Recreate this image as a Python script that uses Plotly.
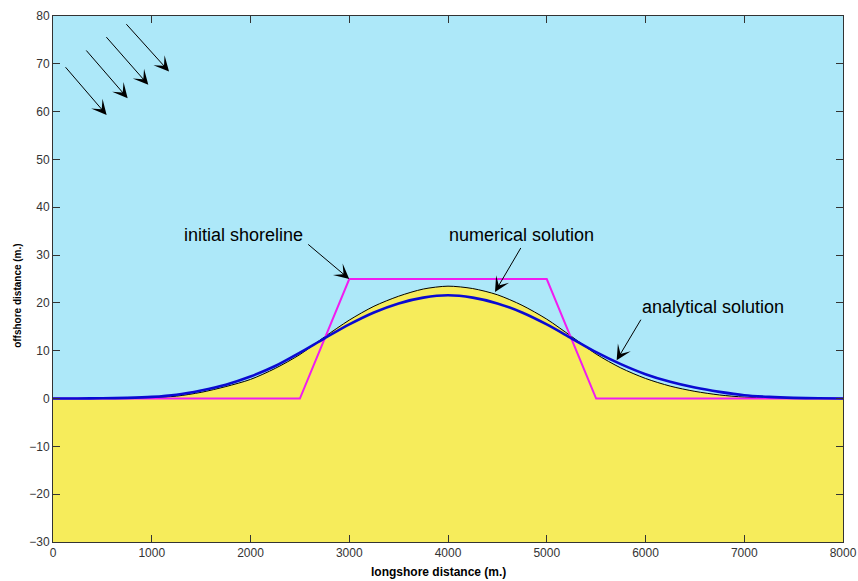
import plotly.graph_objects as go

# Longshore positions (m) at which the shorelines are sampled
x_pos = [0, 250, 500, 750, 1000, 1250, 1500, 1750, 2000, 2250, 2500, 2750,
         3000, 3250, 3500, 3750, 4000, 4250, 4500, 4750, 5000, 5250, 5500,
         5750, 6000, 6250, 6500, 6750, 7000, 7250, 7500, 7750, 8000]

# Shoreline position after evolution (m offshore)
numerical = [0.0, 0.0, 0.02, 0.05, 0.15, 0.5, 1.3, 2.5, 4.0, 6.3, 9.2, 12.9,
             16.4, 19.3, 21.4, 22.9, 23.5, 23.0, 21.7, 19.5, 16.6, 13.0, 9.3,
             6.4, 4.2, 2.6, 1.5, 0.75, 0.3, 0.1, 0.03, 0.0, 0.0]
analytical = [0.0, 0.02, 0.05, 0.15, 0.35, 0.8, 1.7, 2.9, 4.6, 6.8, 9.6, 12.6,
              15.5, 18.0, 19.9, 21.1, 21.6, 21.1, 19.9, 18.0, 15.5, 12.6, 9.7,
              7.2, 5.1, 3.5, 2.3, 1.4, 0.7, 0.35, 0.15, 0.05, 0.0]

# Initial (trapezoidal) beach nourishment
init_x = [0, 2500, 3000, 5000, 5500, 8000]
init_y = [0, 0, 25, 25, 0, 0]

# Incoming wave direction arrows: (tail x, tail y, head x, head y)
wave_arrows = [
    (114, 69.6, 543, 59.3),
    (324, 73.1, 756, 62.8),
    (527, 75.9, 965, 65.6),
    (729, 78.6, 1175, 68.4),
]

x_ticks = [0, 1000, 2000, 3000, 4000, 5000, 6000, 7000, 8000]
y_ticks = [-30, -20, -10, 0, 10, 20, 30, 40, 50, 60, 70, 80]

SEA = "#ade8f9"
SAND = "#f6ec5b"
FONT = "Liberation Sans, Arial, sans-serif"

fig = go.Figure()

# bottom of the sand body
fig.add_trace(go.Scatter(
    x=[x_ticks[0], x_ticks[-1]], y=[y_ticks[0], y_ticks[0]],
    mode="lines", line=dict(width=0, color=SAND), hoverinfo="skip",
    showlegend=False))

# sand (beach) filled up to the numerical shoreline
fig.add_trace(go.Scatter(
    x=x_pos, y=numerical, mode="lines", fill="tonexty", fillcolor=SAND,
    line=dict(color="black", width=1, shape="spline", smoothing=0.8),
    name="numerical solution", showlegend=False))

fig.add_trace(go.Scatter(
    x=init_x, y=init_y, mode="lines",
    line=dict(color="#f01cf0", width=2),
    name="initial shoreline", showlegend=False))

fig.add_trace(go.Scatter(
    x=x_pos, y=analytical, mode="lines",
    line=dict(color="#0a0ad2", width=2.6, shape="spline", smoothing=0.8),
    name="analytical solution", showlegend=False))

annotations = []
for tx, ty, hx, hy in wave_arrows:
    annotations.append(dict(
        x=hx, y=hy, ax=tx, ay=ty, xref="x", yref="y", axref="x", ayref="y",
        text="", showarrow=True, arrowhead=3, arrowsize=2.5, arrowwidth=1,
        arrowcolor="black"))

labels = [
    ("initial shoreline", 1934, 34.2, 2569, 32.5, 3000, 25),
    ("numerical solution", 4745, 34.2, 4746, 31.8, 4476, 22.3),
    ("analytical solution", 6684, 19.2, 5962, 16.8, 5708, 8.0),
]
for txt, lx, ly, tx, ty, hx, hy in labels:
    annotations.append(dict(
        x=lx, y=ly, xref="x", yref="y", text=txt, showarrow=False,
        xanchor="center", yanchor="middle",
        font=dict(family=FONT, size=18, color="black")))
    annotations.append(dict(
        x=hx, y=hy, ax=tx, ay=ty, xref="x", yref="y", axref="x", ayref="y",
        text="", showarrow=True, arrowhead=3, arrowsize=2.5, arrowwidth=1,
        arrowcolor="black"))

annotations.append(dict(
    x=0.488, y=-0.057, xref="paper", yref="paper", showarrow=False,
    xanchor="center", yanchor="middle",
    text="<b>longshore distance (m.)</b>",
    font=dict(family=FONT, size=12, color="black")))
annotations.append(dict(
    x=-0.0443, y=0.468, xref="paper", yref="paper", showarrow=False,
    xanchor="center", yanchor="middle",
    text="<b>offshore distance (m.)</b>", textangle=-90,
    font=dict(family=FONT, size=10, color="black")))

axis_common = dict(
    showgrid=False, zeroline=False, showline=True, linecolor="#333333",
    linewidth=1, mirror="ticks", ticks="inside", ticklen=7, tickwidth=1,
    tickcolor="#333333", automargin=False,
    tickfont=dict(family=FONT, size=12, color="#333333"))

fig.update_layout(
    width=858, height=581,
    margin=dict(l=53, r=15, t=16, b=39),
    paper_bgcolor="white", plot_bgcolor=SEA,
    xaxis=dict(range=[0, 8000], tickvals=x_ticks, **axis_common),
    yaxis=dict(range=[-30, 80], tickvals=y_ticks, **axis_common),
    annotations=annotations,
)

fig.write_html("out.html")
